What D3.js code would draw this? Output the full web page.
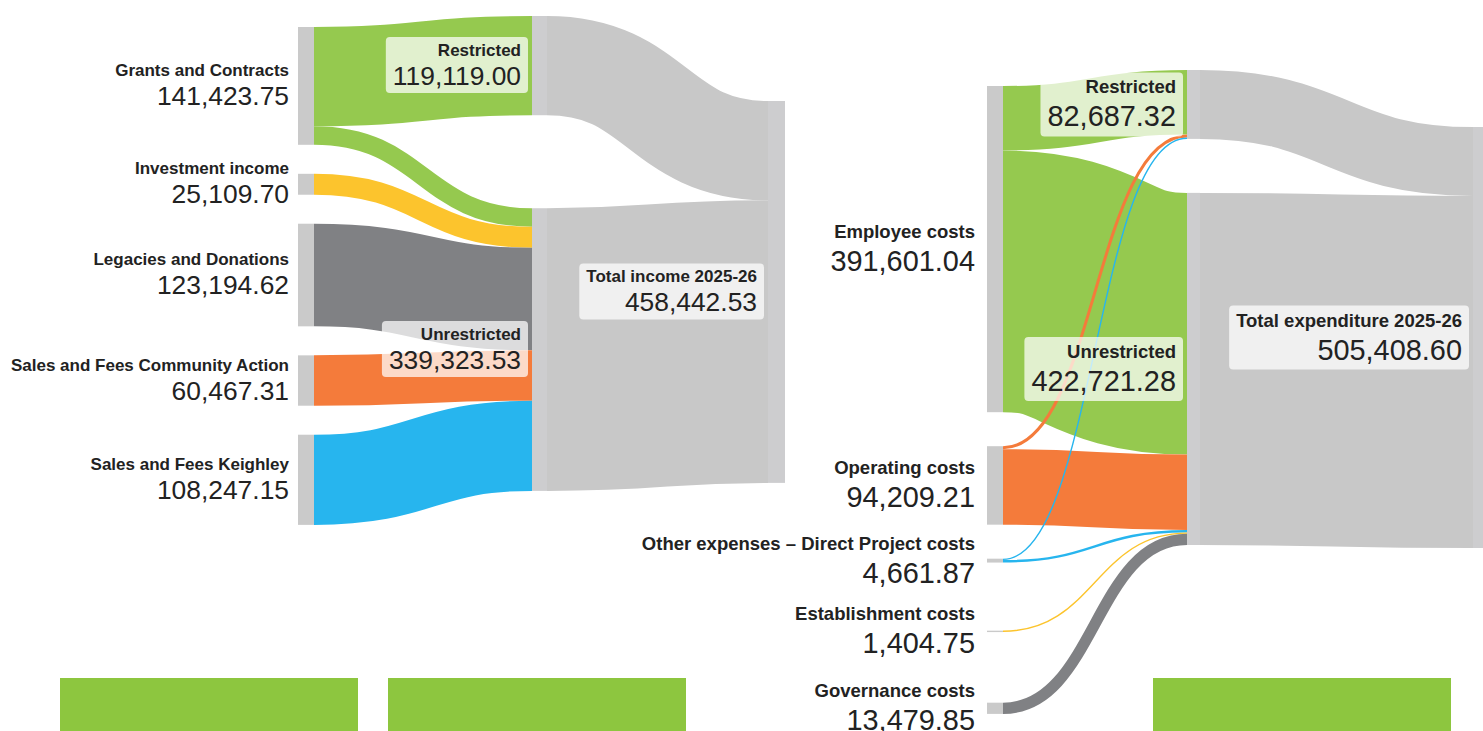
<!DOCTYPE html>
<html><head><meta charset="utf-8">
<script src="https://cdn.jsdelivr.net/npm/d3@7"></script>
<style>
html,body{margin:0;padding:0;background:#fff;}
svg{display:block;}
text{font-family:"Liberation Sans",Arial,Helvetica,sans-serif;fill:#222;}
</style>
</head><body>
<svg id="chart" width="1483" height="731"></svg>
<script>
// ---------------- DATA ----------------
const incomeSources = ["Grants and Contracts", "Investment income", "Legacies and Donations", "Sales and Fees Community Action", "Sales and Fees Keighley"];
const incomeSourceValues = [141423.75, 25109.70, 123194.62, 60467.31, 108247.15];
const incomeToRestricted = [119119.00, 0, 0, 0, 0];
const incomeToUnrestricted = [22304.75, 25109.70, 123194.62, 60467.31, 108247.15];
const fundTypes = ["Restricted", "Unrestricted"];
const incomeFundTotals = [119119.00, 339323.53];
const incomeTotalName = "Total income 2025-26";
const incomeTotal = 458442.53;

const expenseSources = ["Employee costs", "Operating costs", "Other expenses \u2013 Direct Project costs", "Establishment costs", "Governance costs"];
const expenseSourceValues = [391601.04, 94209.21, 4661.87, 1404.75, 13479.85];
const expenseToRestricted = [77387.32, 3600.00, 1700.00, 0, 0];
const expenseToUnrestricted = [314213.72, 90609.21, 2961.87, 1404.75, 13479.85];
const expenseFundTotals = [82687.32, 422721.28];
const expenseTotalName = "Total expenditure 2025-26";
const expenseTotal = 505408.60;

const incomeColors = ["#95c94f", "#fcc42d", "#808184", "#f47b3b", "#27b5ee"];
const expenseColors = ["#95c94f", "#f47b3b", "#27b5ee", "#fcc42d", "#808184"];

// ---------------- LAYOUT ----------------
const svg = d3.select("#chart");
const fmt = d3.format(",.2f");
const h = d3.scaleLinear().domain([0, 505408.60]).range([0, 421]);

const panels = [
  { sources: incomeSources, sourceValues: incomeSourceValues, splits: [incomeToRestricted, incomeToUnrestricted],
    colors: incomeColors, fundValues: incomeFundTotals, totalName: incomeTotalName, totalValue: incomeTotal,
    srcX: 298, srcW: 16, top: 27, gap: 29, minSlot: 0,
    fundX: 532, fundW: 15, fundTop: 16, fundGap: 93,
    totX: 768, totW: 17, totTop: 101,
    nameSize: 17, valueSize: 26.4, nameDy: -10, valueDy: 19, labelGap: 9,
    boxTop: -28.5, boxBottom: 27.5 },
  { sources: expenseSources, sourceValues: expenseSourceValues, splits: [expenseToRestricted, expenseToUnrestricted],
    colors: expenseColors, fundValues: expenseFundTotals, totalName: expenseTotalName, totalValue: expenseTotal,
    srcX: 987, srcW: 16, top: 86, gap: 34, minSlot: 38,
    fundX: 1187, fundW: 13, fundTop: 70, fundGap: 54,
    totX: 1473, totW: 14, totTop: 127,
    nameSize: 18.5, valueSize: 28.9, nameDy: -11, valueDy: 22, labelGap: 12,
    boxTop: -32, boxBottom: 32 }
];

const link = d3.linkHorizontal().source(d => [d.x0, d.sy]).target(d => [d.x1, d.ty]);

function drawPanel(p) {
  const g = svg.append("g");
  let cur = p.top;
  const src = p.sources.map((name, i) => {
    const hh = h(p.sourceValues[i]);
    const n = { name, value: p.sourceValues[i], y0: cur, y1: cur + hh, color: p.colors[i] };
    cur += Math.max(hh, p.minSlot) + p.gap;
    return n;
  });
  let fcur = p.fundTop;
  const funds = fundTypes.map((name, j) => {
    const hh = h(p.fundValues[j]);
    const n = { name, value: p.fundValues[j], y0: fcur, y1: fcur + hh };
    fcur += hh + p.fundGap;
    return n;
  });
  const total = { name: p.totalName, value: p.totalValue, y0: p.totTop, y1: p.totTop + h(p.totalValue) };

  const links = [];
  const sOff = src.map(n => n.y0);
  const fOff = funds.map(n => n.y0);
  src.forEach((s, i) => {
    p.splits.forEach((arr, j) => {
      const v = arr[i];
      if (!v) return;
      const w = h(v);
      links.push({ color: s.color, x0: p.srcX + p.srcW, x1: p.fundX, sy: sOff[i] + w / 2, ty: fOff[j] + w / 2, w });
      sOff[i] += w; fOff[j] += w;
    });
  });
  let tOff = total.y0;
  funds.forEach(f => {
    const w = h(f.value);
    links.push({ color: "#c8c8c8", x0: p.fundX + p.fundW, x1: p.totX, sy: f.y0 + w / 2, ty: tOff + w / 2, w });
    tOff += w;
  });

  g.append("g").selectAll("path").data(links).join("path")
    .attr("d", link).attr("fill", "none")
    .attr("stroke", d => d.color)
    .attr("stroke-width", d => Math.max(1.4, d.w));

  g.append("g").selectAll("rect").data(src).join("rect")
    .attr("x", p.srcX).attr("width", p.srcW)
    .attr("y", d => d.y0).attr("height", d => Math.max(1.4, d.y1 - d.y0))
    .attr("fill", "#cacaca");
  g.append("g").selectAll("rect").data(funds.concat([total])).join("rect")
    .attr("x", (d, i) => i < 2 ? p.fundX : p.totX)
    .attr("width", (d, i) => i < 2 ? p.fundW : p.totW)
    .attr("y", d => d.y0).attr("height", d => d.y1 - d.y0)
    .attr("fill", "#cdcdcf");

  // source labels
  const sl = g.append("g").selectAll("g").data(src).join("g")
    .attr("transform", d => `translate(${p.srcX - p.labelGap},${(d.y0 + d.y1) / 2})`);
  sl.append("text").attr("text-anchor", "end").attr("y", p.nameDy)
    .attr("font-size", p.nameSize).attr("font-weight", "bold").text(d => d.name);
  sl.append("text").attr("text-anchor", "end").attr("y", p.valueDy)
    .attr("font-size", p.valueSize).text(d => fmt(d.value));

  // inner labels (fund + total)
  const inner = funds.map(f => ({ ...f, xr: p.fundX })).concat([{ ...total, xr: p.totX }]);
  inner.forEach(d => {
    const cy = (d.y0 + d.y1) / 2;
    const lg = g.append("g").attr("transform", `translate(${d.xr - 4},${cy})`);
    const rect = lg.append("rect");
    const t1 = lg.append("text").attr("text-anchor", "end").attr("x", -7).attr("y", p.nameDy)
      .attr("font-size", p.nameSize).attr("font-weight", "bold").text(d.name);
    const t2 = lg.append("text").attr("text-anchor", "end").attr("x", -7).attr("y", p.valueDy)
      .attr("font-size", p.valueSize).text(fmt(d.value));
    const w = Math.max(t1.node().getComputedTextLength(), t2.node().getComputedTextLength()) + 14;
    rect.attr("x", -w).attr("y", p.boxTop).attr("width", w).attr("height", p.boxBottom - p.boxTop)
      .attr("rx", 4).attr("fill", "#ffffff").attr("fill-opacity", 0.72);
  });
}

panels.forEach(drawPanel);

// decorative footer blocks
const footerBlocks = [60, 388, 1153];
svg.append("g").selectAll("rect").data(footerBlocks).join("rect")
  .attr("x", d => d).attr("y", 678).attr("width", 298).attr("height", 60)
  .attr("fill", "#8dc63f");
</script>
</body></html>
